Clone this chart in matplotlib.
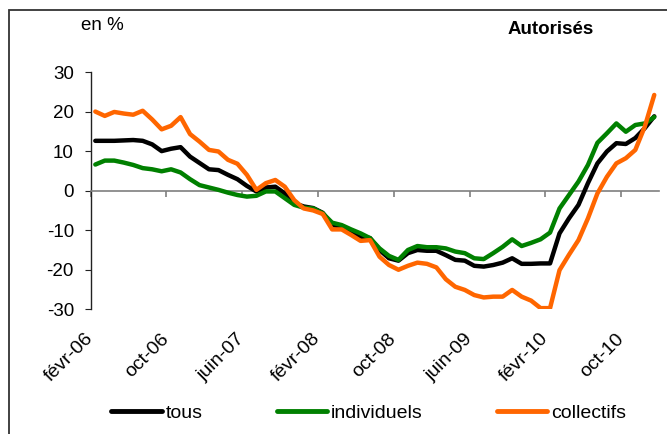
import matplotlib
matplotlib.use('Agg')
import matplotlib.pyplot as plt
import matplotlib.transforms as mtrans
from matplotlib.patches import Rectangle
from matplotlib.lines import Line2D

plt.rcParams['font.family'] = ['Liberation Sans', 'DejaVu Sans']
plt.rcParams['axes.unicode_minus'] = False

tick_labels = ['févr-06', 'oct-06', 'juin-07', 'févr-08', 'oct-08', 'juin-09', 'févr-10', 'oct-10']
series_names = ['tous', 'individuels', 'collectifs']

tous = [12.6, 12.6, 12.6, 12.7, 12.8, 12.6, 11.7, 10.0, 10.6, 11.0,
        8.6, 7.0, 5.4, 5.2, 4.0, 2.9, 1.2, -0.2, 0.8, 1.0,
        -0.7, -3.2, -4.0, -4.4, -5.6, -8.7, -9.1, -10.4, -11.6, -12.0,
        -15.0, -17.1, -17.7, -15.8, -15.0, -15.2, -15.2, -16.3, -17.5, -17.7,
        -19.0, -19.2, -18.8, -18.2, -17.1, -18.5, -18.5, -18.4, -18.4, -10.8,
        -7.0, -3.6, 1.9, 6.9, 9.9, 12.0, 11.8, 13.3, 15.8, 18.8]

individuels = [6.6, 7.6, 7.6, 7.1, 6.5, 5.7, 5.4, 4.9, 5.4, 4.6,
               2.9, 1.4, 0.8, 0.2, -0.5, -1.1, -1.5, -1.3, -0.2, -0.2,
               -1.9, -3.6, -4.3, -4.5, -5.7, -8.1, -8.7, -9.8, -10.8, -12.0,
               -14.6, -16.5, -17.5, -15.0, -14.0, -14.3, -14.3, -14.6, -15.4, -15.8,
               -17.1, -17.3, -15.8, -14.2, -12.3, -14.0, -13.2, -12.3, -10.6, -4.5,
               -1.1, 2.3, 6.5, 12.1, 14.5, 17.0, 14.9, 16.6, 17.0, 18.6]

collectifs = [20.0, 18.9, 19.9, 19.5, 19.2, 20.2, 18.0, 15.5, 16.4, 18.6,
              14.3, 12.4, 10.3, 9.9, 7.8, 6.8, 4.0, 0.2, 1.9, 2.7,
              1.0, -2.4, -4.5, -5.0, -5.9, -9.8, -9.8, -11.2, -12.7, -12.5,
              -16.7, -18.8, -20.0, -19.0, -18.2, -18.5, -19.4, -22.4, -24.3, -25.1,
              -26.4, -27.0, -26.8, -26.8, -25.1, -26.8, -27.8, -29.7, -29.7, -20.1,
              -16.2, -12.5, -7.0, -0.7, 3.5, 6.9, 8.2, 10.3, 16.2, 24.2]

colors = ['#000000', '#008000', '#ff6600']
FS = 14

fig = plt.figure(figsize=(6.67, 4.34), dpi=100)
ax = fig.add_axes([0.1358, 0.2873, 0.8522, 0.5468])

x = list(range(len(tous)))
for data, c in zip([tous, individuels, collectifs], colors):
    ax.plot(x, data, color=c, lw=3.2, solid_joinstyle='round', solid_capstyle='round', zorder=3)

ax.set_xlim(-0.5, len(tous) - 0.5)
ax.set_ylim(-30, 30)
ax.set_yticks([-30, -20, -10, 0, 10, 20, 30])
ax.spines['top'].set_visible(False)
ax.spines['right'].set_visible(False)
ax.spines['bottom'].set_position(('data', 0))
ax.spines['bottom'].set_color('#7f7f7f')
ax.spines['bottom'].set_linewidth(1.2)
ax.spines['left'].set_color('#222222')
ax.spines['left'].set_linewidth(1.0)

tick_pos = [-0.5 + 8 * k for k in range(len(tick_labels))]
ax.set_xticks(tick_pos)
ax.set_xticklabels([])
ax.tick_params(axis='x', direction='out', length=4, color='#7f7f7f', width=1.2)
ax.tick_params(axis='y', direction='out', length=4, pad=8, labelsize=FS - 0.5, color='#222222')

sec = ax.secondary_xaxis('bottom')
sec.set_xticks(tick_pos)
sec.set_xticklabels(tick_labels, rotation=45, ha='right', rotation_mode='anchor', fontsize=FS)
sec.tick_params(length=0, pad=15)
sec.spines['bottom'].set_visible(False)
shift = mtrans.ScaledTranslation(-6 / 100, 0, fig.dpi_scale_trans)
for lab in sec.get_xticklabels():
    lab.set_transform(lab.get_transform() + shift)

fig.text(81 / 667, 1 - 26 / 434, 'en %', fontsize=FS - 0.5, ha='left', va='center')
fig.text(508 / 667, 1 - 29 / 434, 'Autorisés', fontsize=FS - 0.5, fontweight='bold', ha='left', va='center')

handles = [Line2D([0], [0], color=c, lw=3.5, solid_capstyle='round') for c in colors]
fig.legend(handles, series_names, loc='center', bbox_to_anchor=(0.553, 0.048), ncol=3,
           frameon=False, handlelength=2.6, handletextpad=0.2, columnspacing=3.8, fontsize=FS)

fig.patches.append(Rectangle((9 / 667, -0.1), 1.2, 1 - 10 / 434 + 0.1, transform=fig.transFigure,
                             fill=False, lw=1.3, ec='#333333'))

fig.savefig('out.png', dpi=100)
